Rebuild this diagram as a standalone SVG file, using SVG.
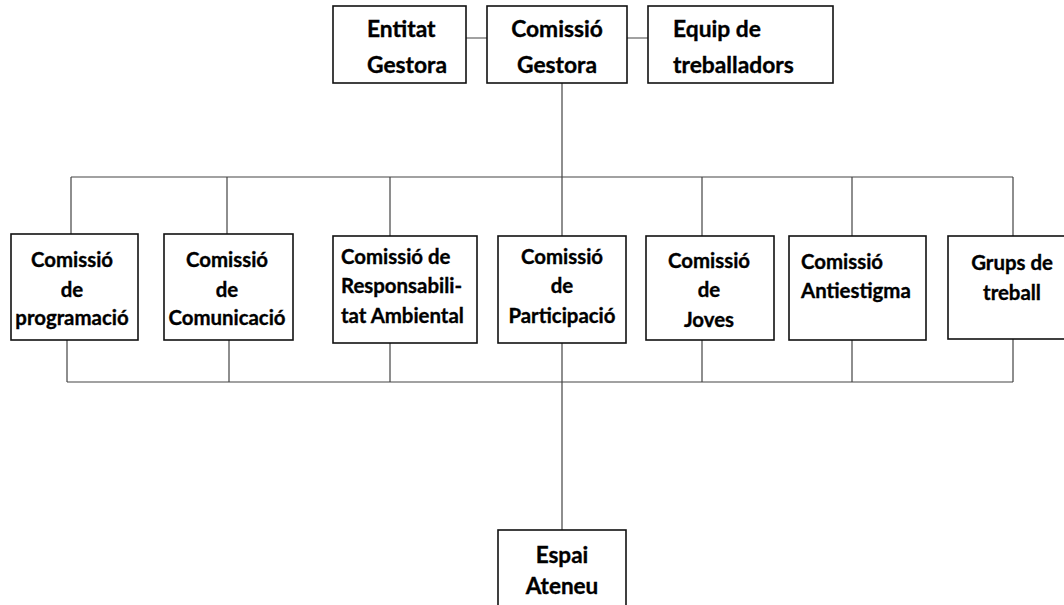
<svg xmlns="http://www.w3.org/2000/svg" width="1064" height="605" viewBox="0 0 1064 605">
<style>
.box{fill:#fff;stroke:#111;stroke-width:1.6}
.ln{fill:none;stroke:#444;stroke-width:1.2}
text{font-family:Lato,"Liberation Sans",sans-serif;font-weight:bold;fill:#000;stroke:#000;stroke-width:0.35}
.t1{font-size:22.8px}
.t2{font-size:20.4px}
.t3{font-size:22.5px}
.c{text-anchor:middle}
</style>
<rect width="1064" height="605" fill="#fff"/>
<g id="connectors">
<path class="ln" d="M466 38H487M627 38H648M562 83V177M71 177H1013M71 177V234M227 177V234M390 177V236M562 177V236M702 177V236M852 177V236M1013 177V236M67 382H1013M67 340V382M229 340V382M390 343V382M562 343V530M702 340V382M852 340V382M1013 339V382"/>
</g>
<g id="entitat-gestora">
<rect class="box" x="333" y="6" width="133" height="77"/>
<text class="t1" x="367" y="37">Entitat</text>
<text class="t1" x="367" y="73">Gestora</text>
</g>
<g id="comissio-gestora">
<rect class="box" x="487" y="6" width="140" height="77"/>
<text class="t1 c" x="557" y="37">Comissió</text>
<text class="t1 c" x="557" y="73">Gestora</text>
</g>
<g id="equip-treballadors">
<rect class="box" x="648" y="6" width="185" height="77"/>
<text class="t1" x="673" y="37">Equip de</text>
<text class="t1" x="673" y="73">treballadors</text>
</g>
<g id="comissio-programacio">
<rect class="box" x="11" y="234" width="127" height="106"/>
<text class="t2 c" x="72" y="267">Comissió</text>
<text class="t2 c" x="72" y="297">de</text>
<text class="t2 c" x="72" y="325">programació</text>
</g>
<g id="comissio-comunicacio">
<rect class="box" x="164" y="234" width="129" height="106"/>
<text class="t2 c" x="227" y="267">Comissió</text>
<text class="t2 c" x="227" y="297">de</text>
<text class="t2 c" x="227" y="325">Comunicació</text>
</g>
<g id="comissio-responsabilitat">
<rect class="box" x="333" y="236" width="144" height="107"/>
<text class="t2" x="341" y="264">Comissió de</text>
<text class="t2" x="341" y="293">Responsabili-</text>
<text class="t2" x="341" y="323">tat Ambiental</text>
</g>
<g id="comissio-participacio">
<rect class="box" x="498" y="236" width="128" height="107"/>
<text class="t2 c" x="562" y="264">Comissió</text>
<text class="t2 c" x="562" y="293">de</text>
<text class="t2 c" x="562" y="323">Participació</text>
</g>
<g id="comissio-joves">
<rect class="box" x="646" y="236" width="128" height="104"/>
<text class="t2 c" x="709" y="268">Comissió</text>
<text class="t2 c" x="709" y="297">de</text>
<text class="t2 c" x="709" y="327">Joves</text>
</g>
<g id="comissio-antiestigma">
<rect class="box" x="789" y="236" width="137" height="104"/>
<text class="t2" x="801" y="269">Comissió</text>
<text class="t2" x="801" y="298">Antiestigma</text>
</g>
<g id="grups-treball">
<rect class="box" x="948" y="236" width="128" height="103"/>
<text class="t2 c" x="1012" y="270">Grups de</text>
<text class="t2 c" x="1012" y="300">treball</text>
</g>
<g id="espai-ateneu">
<rect class="box" x="498" y="530" width="128" height="90"/>
<text class="t3 c" x="562" y="563">Espai</text>
<text class="t3 c" x="562" y="594">Ateneu</text>
</g>
</svg>
